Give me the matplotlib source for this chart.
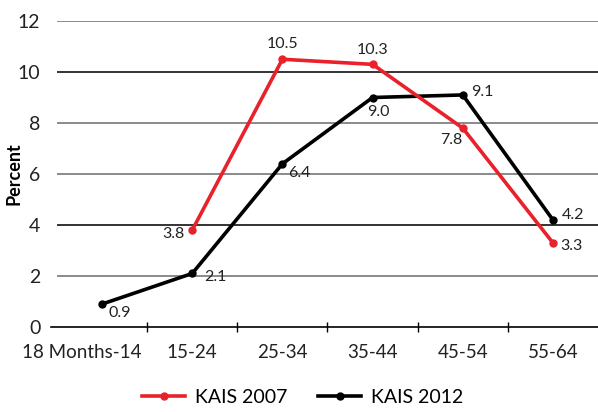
import matplotlib
matplotlib.use('Agg')
import matplotlib.pyplot as plt
import matplotlib.transforms as mtransforms
import numpy as np

categories = ['18 Months-14', '15-24', '25-34', '35-44', '45-54', '55-64']
kais_2007 = [np.nan, 3.8, 10.5, 10.3, 7.8, 3.3]
kais_2012 = [0.9, 2.1, 6.4, 9.0, 9.1, 4.2]

# label offsets in pixels (dx, dy, ha) for each point
off_2007 = [None, (-8, -4, 'right'), (0, 15, 'center'), (0, 14, 'center'),
            (-11, -12, 'center'), (7, -3, 'left')]
off_2012 = [(6, -9, 'left'), (12, -4, 'left'), (6, -9, 'left'),
            (6, -15, 'center'), (8, 3, 'left'), (9, 5, 'left')]

plt.rcParams['font.family'] = ['Lato', 'DejaVu Sans']

fig = plt.figure(figsize=(5.98, 4.12), dpi=100)
ax = fig.add_axes([57/598, 1 - 327/412, 1 - 57/598, (327 - 21)/412])

x = np.arange(len(categories))
red = '#e8212b'

# gridlines
for y, c in zip([2, 4, 6, 8, 10, 12], ['#777777', '#111111', '#777777', '#777777', '#111111', '#777777']):
    ax.axhline(y, color=c, lw=1.2, zorder=0)

l1, = ax.plot(x, kais_2007, color=red, lw=2.6, marker='o', markersize=5, label='KAIS 2007', zorder=3)
l2, = ax.plot(x, kais_2012, color='black', lw=2.6, marker='o', markersize=5, label='KAIS 2012', zorder=2)

for vals, offs in [(kais_2007, off_2007), (kais_2012, off_2012)]:
    for i, (v, o) in enumerate(zip(vals, offs)):
        if o is None or np.isnan(v):
            continue
        ax.annotate(f'{v:.1f}', (i, v), xytext=(o[0], o[1]), textcoords='offset pixels',
                    ha=o[2], va='center', fontsize=11.5, color='#222222')

ax.set_xlim(-0.5, len(categories) - 0.5)
ax.set_ylim(0, 12)
ax.set_yticks([0, 2, 4, 6, 8, 10, 12])
ax.set_xticks(x)
ax.set_xticklabels(categories)
ax.set_xticks(np.arange(0.5, len(categories) - 1, 1), minor=True)
ax.tick_params(axis='x', which='major', length=0, pad=12, labelsize=13.5, colors='#222222')
ax.tick_params(axis='x', which='minor', length=7, direction='inout', width=1)
ax.tick_params(axis='y', length=0, pad=12, labelsize=14, colors='#222222')

# first category label sits a bit to the left in the original
lab0 = ax.get_xticklabels()[0]
lab0.set_transform(lab0.get_transform() + mtransforms.ScaledTranslation(-0.2, 0, fig.dpi_scale_trans))

for s in ['top', 'right', 'left']:
    ax.spines[s].set_visible(False)
ax.spines['bottom'].set_linewidth(1.2)
ax.spines['bottom'].set_bounds(-0.57, len(categories) - 0.5)
ax.set_ylabel('Percent', fontsize=13, fontweight='bold')
ax.yaxis.set_label_coords(-34/541, 0.5)

fig.legend(handles=[l1, l2], loc='center', bbox_to_anchor=(0.506, 0.036), ncol=2,
           frameon=False, fontsize=14, handlelength=2.2, columnspacing=1.6,
           handletextpad=0.5)

fig.savefig('out.png', dpi=100)
